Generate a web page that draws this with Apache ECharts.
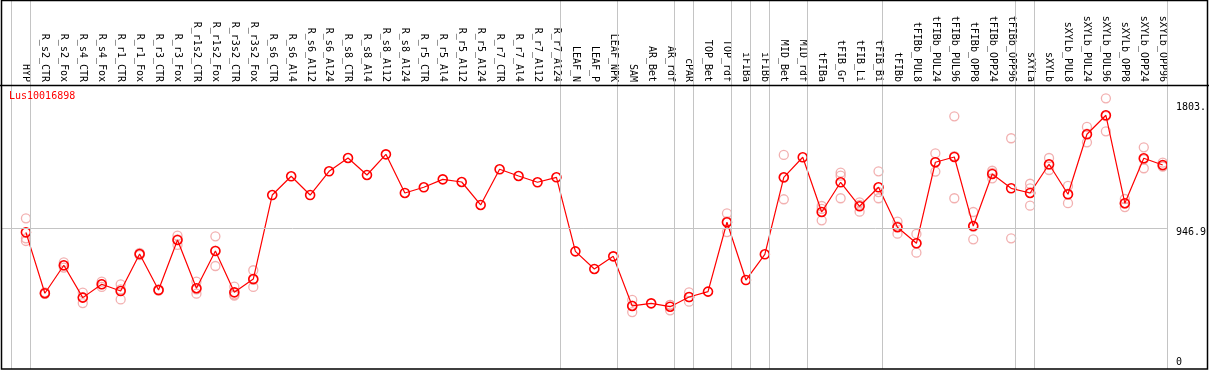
<!DOCTYPE html>
<html>
<head>
<meta charset="utf-8">
<script src="https://cdn.jsdelivr.net/npm/echarts@6/dist/echarts.min.js"></script>
<style>
html,body{margin:0;padding:0;background:#fff;}
#chart{width:1209px;height:370px;}
</style>
</head>
<body>
<div id="chart"></div>
<script>
const categories = ["HYP","R_s2_CTR","R_s2_Fox","R_s4_CTR","R_s4_Fox","R_r1_CTR","R_r1_Fox","R_r3_CTR","R_r3_Fox","R_r1s2_CTR","R_r1s2_Fox","R_r3s2_CTR","R_r3s2_Fox","R_s6_CTR","R_s6_Al4","R_s6_Al12","R_s6_Al24","R_s8_CTR","R_s8_Al4","R_s8_Al12","R_s8_Al24","R_r5_CTR","R_r5_Al4","R_r5_Al12","R_r5_Al24","R_r7_CTR","R_r7_Al4","R_r7_Al12","R_r7_Al24","LEAF_N","LEAF_P","LEAF_NPK","SAM","AR_Bet","AR_rdf","cPAR","TOP_Bet","TOP_rdf","iFIBa","iFIBb","MID_Bet","MID_rdf","tFIBa","tFIB_Gr","tFIB_Li","tFIB_Bi","tFIBb","tFIBb_PUL8","tFIBb_PUL24","tFIBb_PUL96","tFIBb_OPP8","tFIBb_OPP24","tFIBb_OPP96","sXYLa","sXYLb","sXYLb_PUL8","sXYLb_PUL24","sXYLb_PUL96","sXYLb_OPP8","sXYLb_OPP24","sXYLb_OPP96"];

const meanValues = [920,504,695,474,565,519,772,526,868,538,793,510,601,1175,1303,1175,1337,1428,1312,1453,1189,1228,1282,1264,1107,1351,1305,1262,1296,790,670,756,417,435,412,478,515,989,594,770,1296,1433,1059,1262,1098,1228,955,845,1399,1435,963,1319,1221,1189,1385,1180,1590,1720,1119,1426,1380];

const rep1 = [1016,510,715,508,583,565,780,530,897,583,893,549,661,null,null,null,null,null,null,null,null,null,null,null,null,null,null,null,null,null,null,null,458,null,424,510,null,1050,null,null,1449,null,1100,1328,1125,1337,993,909,1460,1713,1059,1341,1563,1252,1428,1237,1640,1836,1148,1501,1396];
const rep2 = [879,500,679,437,547,462,765,522,834,501,690,487,547,null,null,null,null,null,null,null,null,null,null,null,null,null,null,null,null,null,null,null,420,null,387,446,null,922,null,null,1146,null,1080,1307,1061,1195,911,781,1335,1153,872,1289,879,1221,1346,1119,1535,1610,1093,1358,1370];
const rep3 = [861,502,692,478,566,530,772,526,872,530,795,495,595,null,null,null,null,null,null,null,null,null,null,null,null,null,null,null,null,null,null,null,375,null,425,478,null,995,null,null,1293,null,1002,1153,1108,1153,960,845,1400,1440,958,1327,null,1102,1381,1184,1595,1714,1116,1419,1374];

const yTickValues = [0, 946.9, 1803.4];
const refLineValue = 946.9;
const groupEnds = [-1, 0, 28, 31, 34, 35, 37, 38, 39, 41, 45, 52, 53, 60];
const titleText = "Lus10016898";

const FONT = "DejaVu Sans Mono";
const X_MIN = -1.316, X_MAX = 60.22;

const repData = [];
[rep1, rep2, rep3].forEach(arr => arr.forEach((v, i) => { if (v !== null) repData.push([i, v]); }));

const chart = echarts.init(document.getElementById('chart'), null, {renderer: 'canvas'});
chart.setOption({
  animation: false,
  backgroundColor: '#fff',
  title: {
    text: titleText, left: 9, top: 91, padding: 0,
    textStyle: {color: '#ff0000', fontFamily: FONT, fontSize: 10, fontWeight: 'normal'}
  },
  grid: {left: 1, right: 39, top: 0, bottom: 1},
  xAxis: [
    {type: 'value', min: X_MIN, max: X_MAX, show: false, axisLine: {onZero: false}},
    {
      type: 'value', position: 'top', min: X_MIN, max: X_MAX, offset: -85,
      axisLine: {show: false, onZero: false}, axisTick: {show: false}, splitLine: {show: false},
      axisLabel: {
        customValues: categories.map((c, i) => i),
        formatter: v => categories[Math.round(v)] || '',
        rotate: 90, margin: 3, fontFamily: FONT, fontSize: 10, color: '#000',
        showMinLabel: true, showMaxLabel: true, hideOverlap: false
      }
    }
  ],
  yAxis: {
    type: 'value', position: 'right', min: -13.67, max: 2507.5,
    axisLine: {show: false}, axisTick: {show: false}, splitLine: {show: false},
    axisLabel: {
      customValues: yTickValues, margin: 9, color: '#000', fontFamily: FONT, fontSize: 10,
      formatter: v => {
        const s = String(v).slice(0, 5);
        return v === 0 ? '{b|' + s + '}' : '{t|' + s + '}';
      },
      rich: {
        t: {padding: [8, 0, 0, 0], fontFamily: FONT, fontSize: 10, color: '#000'},
        b: {padding: [0, 0, 9, 0], fontFamily: FONT, fontSize: 10, color: '#000'}
      }
    }
  },
  series: [
    {
      type: 'line', data: [], z: 1, silent: true,
      markLine: {
        silent: true, symbol: ['none', 'none'], label: {show: false},
        lineStyle: {color: '#c4c4c4', width: 1, type: 'solid'},
        emphasis: {disabled: true},
        data: groupEnds.map(k => ({xAxis: k + 0.22})).concat([{yAxis: refLineValue}])
      }
    },
    {
      type: 'scatter', data: repData, z: 2, silent: true,
      symbol: 'circle', symbolSize: 9,
      itemStyle: {color: 'rgba(0,0,0,0)', borderColor: '#ef9c9c', borderWidth: 1.3}
    },
    {
      type: 'line', data: meanValues.map((v, i) => [i, v]), z: 3, silent: true,
      symbol: 'circle', symbolSize: 9, showAllSymbol: true,
      lineStyle: {color: '#ff0000', width: 1.2},
      itemStyle: {color: 'rgba(0,0,0,0)', borderColor: '#ff0000', borderWidth: 1.6}
    }
  ],
  graphic: [
    {type: 'rect', silent: true, z: 100, shape: {x: 1.5, y: 0.5, width: 1206, height: 368.5},
     style: {fill: 'none', stroke: '#000', lineWidth: 1.5}},
    {type: 'line', silent: true, z: 100, shape: {x1: 0, y1: 85.5, x2: 1209, y2: 85.5},
     style: {stroke: '#000', lineWidth: 1.5}}
  ]
});
</script>
</body>
</html>
